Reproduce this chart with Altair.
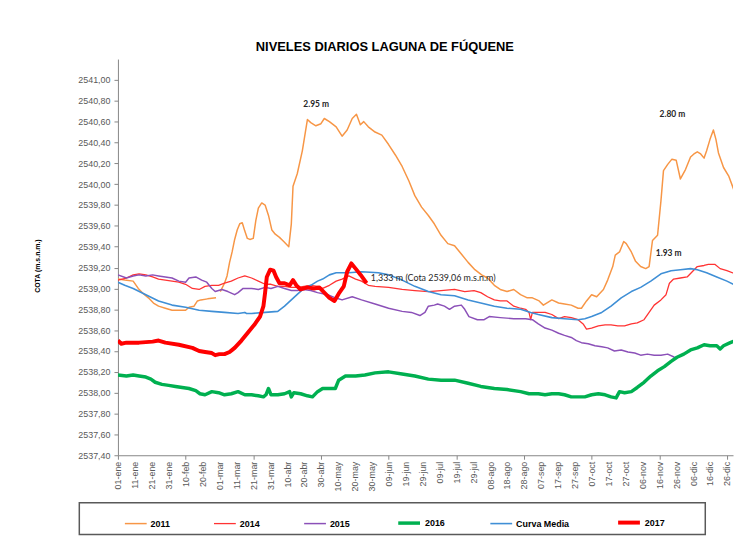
import json
import altair as alt
import pandas as pd

# ---------------- data ----------------
SERIES = ["2011", "2014", "2015", "2016", "Curva Media", "2017"]
COLORS = ["#F79646", "#FF3333", "#8B50B8", "#00B050", "#3F8FD6", "#FF0000"]
WIDTHS = [1.5, 1.3, 1.5, 3.5, 1.6, 4.0]

# day of year (0 = 01-ene) and level (m.s.n.m.)
d2011a = [0, 4, 9, 12, 15, 18, 21, 24, 28, 32, 36, 40, 42, 45, 47, 49, 53, 58]
v2011a = [2539.09, 2539.08, 2539.07, 2539.00, 2538.95, 2538.91, 2538.86, 2538.83, 2538.81,
          2538.79, 2538.79, 2538.79, 2538.82, 2538.83, 2538.88, 2538.89, 2538.90, 2538.91]

d2011b = [60.5, 63, 64.5, 66, 67.5, 69, 70.5, 72, 73.5, 75, 76.5, 78, 80, 81.5, 83, 85, 87, 89,
          91, 93, 95.5, 98, 101, 102.5, 103.5, 106, 109, 112, 114, 117, 120, 122, 125, 129,
          132.5, 135.5, 138.5, 141, 143.3, 145.3, 148, 152, 156, 160, 164, 168, 172, 175.5,
          179.5, 183.5, 187, 191, 195, 199, 203, 207, 211, 215, 218.5, 222.5, 226, 230, 234,
          238, 242, 245, 249, 251.5, 256.5, 260.5, 264, 268, 272, 274, 277, 280, 283, 287,
          289.5, 292.5, 294, 296.5, 299, 300.5, 303.5, 306, 309, 312, 314, 316, 319, 321,
          322.5, 325, 327.5, 330, 332.5, 335.5, 338.5, 340.5, 342.5, 344.5, 346.5, 348, 350,
          352, 353.5, 355, 358, 361, 364]
v2011b = [2538.97, 2539.05, 2539.12, 2539.25, 2539.35, 2539.47, 2539.56, 2539.62, 2539.63,
          2539.55, 2539.48, 2539.47, 2539.48, 2539.65, 2539.77, 2539.82, 2539.80, 2539.70,
          2539.56, 2539.52, 2539.49, 2539.45, 2539.40, 2539.62, 2539.98, 2540.10, 2540.32,
          2540.62, 2540.59, 2540.56, 2540.58, 2540.63, 2540.60, 2540.55, 2540.46, 2540.52,
          2540.63, 2540.67, 2540.57, 2540.60, 2540.55, 2540.50, 2540.47, 2540.38, 2540.28,
          2540.17, 2540.03, 2539.89, 2539.78, 2539.70, 2539.62, 2539.51, 2539.43, 2539.41,
          2539.33, 2539.25, 2539.18, 2539.13, 2539.10, 2539.03, 2538.99, 2538.97, 2538.99,
          2538.94, 2538.91, 2538.91, 2538.88, 2538.84, 2538.89, 2538.86, 2538.85, 2538.84,
          2538.81, 2538.81, 2538.88, 2538.94, 2538.92, 2538.99, 2539.08, 2539.21, 2539.32,
          2539.35, 2539.45, 2539.43, 2539.35, 2539.26, 2539.21, 2539.19, 2539.21, 2539.46,
          2539.51, 2539.84, 2540.13, 2540.19, 2540.24, 2540.23, 2540.05, 2540.14, 2540.26,
          2540.29, 2540.31, 2540.29, 2540.25, 2540.32, 2540.43, 2540.52, 2540.43, 2540.30,
          2540.16, 2540.08, 2539.95]

d2014 = [0, 5, 9, 12.5, 16.5, 20.5, 24, 28, 32, 36, 40, 44, 48, 51.5, 55.5, 59.5, 63, 67, 71,
         75, 79, 83, 87, 90.5, 94.5, 98.5, 102.5, 106, 110, 114, 118, 121, 125, 129, 132.5,
         136.5, 140.5, 144, 148, 152, 160, 168, 175.5, 183.5, 191, 199, 205, 210.5, 214.5,
         218.5, 222.5, 226, 230, 234, 238, 241, 243, 244, 245, 248.5, 252.5, 256.5, 260.5,
         264, 268, 272, 275, 277, 280, 284, 288, 291.5, 295.5, 299.5, 303.5, 307, 311, 314,
         317, 321, 324, 326, 328.5, 332.5, 336.5, 339.5, 342.5, 346.5, 349, 353, 356, 360, 365]
v2014 = [2539.08, 2539.10, 2539.13, 2539.14, 2539.13, 2539.11, 2539.09, 2539.08, 2539.07,
         2539.06, 2539.04, 2539.00, 2538.99, 2539.02, 2539.03, 2539.03, 2539.05, 2539.07,
         2539.10, 2539.12, 2539.10, 2539.07, 2539.04, 2539.04, 2539.02, 2539.02, 2539.01,
         2539.01, 2539.02, 2539.03, 2539.02, 2539.00, 2539.03, 2539.07, 2539.09, 2539.12,
         2539.09, 2539.07, 2539.03, 2539.02, 2539.01, 2538.99, 2538.98, 2538.97, 2538.98,
         2538.99, 2538.97, 2538.98, 2538.96, 2538.92, 2538.89, 2538.88, 2538.88, 2538.83,
         2538.81, 2538.80, 2538.77, 2538.70, 2538.77, 2538.77, 2538.77, 2538.75, 2538.71,
         2538.73, 2538.72, 2538.70, 2538.66, 2538.61, 2538.62, 2538.64, 2538.65, 2538.65,
         2538.64, 2538.64, 2538.66, 2538.67, 2538.70, 2538.77, 2538.84, 2538.89, 2538.94,
         2539.05, 2539.09, 2539.10, 2539.11, 2539.16, 2539.21, 2539.22, 2539.23, 2539.23,
         2539.19, 2539.17, 2539.14]

d2015 = [0, 5, 9, 12.5, 16.5, 20.5, 24, 28, 32, 36, 40, 42, 46, 49.5, 52.5, 55.5, 57.5, 61.5,
         65, 69, 71, 74, 79, 83, 87, 90.5, 94.5, 98.5, 102.5, 106, 110, 114, 118, 124, 128.5,
         132.5, 138.5, 144, 152, 160, 168, 173.5, 178.5, 181.5, 183.5, 187, 189, 193, 196,
         199, 203, 205, 207.5, 212.5, 216.5, 219.5, 226, 234, 241, 245, 248.5, 252.5, 256.5,
         260.5, 264, 268, 271, 274, 278, 282, 286, 289.5, 293.5, 297.5, 301.5, 305.5, 309,
         313, 317, 321, 325, 329]
v2015 = [2539.13, 2539.10, 2539.12, 2539.13, 2539.12, 2539.13, 2539.12, 2539.11, 2539.10,
         2539.07, 2539.06, 2539.10, 2539.11, 2539.08, 2539.06, 2539.00, 2538.97, 2538.99,
         2538.97, 2538.94, 2538.96, 2539.00, 2539.00, 2538.99, 2539.01, 2539.00, 2539.02,
         2539.00, 2538.98, 2538.98, 2538.99, 2538.98, 2538.96, 2538.94, 2538.91, 2538.89,
         2538.92, 2538.89, 2538.85, 2538.81, 2538.78, 2538.77, 2538.74, 2538.77, 2538.83,
         2538.84, 2538.85, 2538.83, 2538.80, 2538.83, 2538.84, 2538.80, 2538.73, 2538.70,
         2538.70, 2538.73, 2538.72, 2538.71, 2538.71, 2538.70, 2538.66, 2538.62, 2538.60,
         2538.57, 2538.55, 2538.53, 2538.50, 2538.48, 2538.47, 2538.45, 2538.44, 2538.43,
         2538.40, 2538.41, 2538.39, 2538.38, 2538.36, 2538.37, 2538.36, 2538.36, 2538.37,
         2538.34]

d2016 = [0, 5, 9, 12.5, 16.5, 19.5, 22, 26, 30, 34, 38, 42, 46, 48.5, 51.5, 55.5, 59.5, 63,
         67, 71, 75, 79, 83, 86, 87.5, 89, 90.5, 94.5, 98.5, 101.5, 102.5, 104, 108, 112, 115,
         118, 121, 128.5, 130.5, 134.5, 140.5, 146, 152, 160, 168, 175.5, 183.5, 191, 199,
         207, 214.5, 222.5, 230, 238, 243, 248.5, 252.5, 256.5, 260.5, 264, 268, 272, 276,
         280, 284, 288, 291.5, 294.5, 296.5, 299.5, 303.5, 307, 311, 315, 319, 323, 327,
         330.5, 334.5, 338.5, 342.5, 346.5, 350, 354, 356, 358, 362, 365]
v2016 = [2538.17, 2538.16, 2538.17, 2538.16, 2538.15, 2538.13, 2538.10, 2538.08, 2538.07,
         2538.06, 2538.05, 2538.04, 2538.02, 2537.99, 2537.98, 2538.01, 2538.00, 2537.98,
         2537.99, 2538.01, 2537.98, 2537.98, 2537.97, 2537.96, 2537.98, 2538.04, 2537.98,
         2537.98, 2537.99, 2538.01, 2537.96, 2538.00, 2537.99, 2537.97, 2537.96, 2538.01,
         2538.04, 2538.04, 2538.12, 2538.16, 2538.16, 2538.17, 2538.19, 2538.20, 2538.18,
         2538.16, 2538.13, 2538.12, 2538.12, 2538.09, 2538.06, 2538.04, 2538.03, 2538.01,
         2537.99, 2537.99, 2537.98, 2537.99, 2537.99, 2537.98, 2537.96, 2537.96, 2537.96,
         2537.98, 2537.99, 2537.98, 2537.96, 2537.95, 2538.01, 2538.00, 2538.01, 2538.05,
         2538.10, 2538.16, 2538.21, 2538.25, 2538.30, 2538.34, 2538.37, 2538.41, 2538.43,
         2538.46, 2538.45, 2538.45, 2538.42, 2538.45, 2538.48, 2538.50]

dmedia = [0, 4, 9, 16.5, 24, 32, 40, 48, 55.5, 63, 71, 75, 76, 79, 87, 94.5, 98.5, 102.5,
          106.5, 110, 114, 118, 121, 125, 129, 136.5, 144, 154, 160, 168, 175.5, 183.5, 191,
          199, 207, 214.5, 222.5, 230, 238, 244, 248.5, 256.5, 264, 272, 276, 280, 286,
          291.5, 297.5, 303.5, 309, 315, 321, 327, 332.5, 338.5, 342.5, 348, 354, 360, 365]
vmedia = [2539.06, 2539.03, 2539.00, 2538.94, 2538.88, 2538.84, 2538.82, 2538.79, 2538.78,
          2538.77, 2538.76, 2538.77, 2538.76, 2538.76, 2538.77, 2538.78, 2538.83, 2538.89,
          2538.95, 2539.00, 2539.03, 2539.07, 2539.09, 2539.13, 2539.15, 2539.15, 2539.16,
          2539.15, 2539.13, 2539.08, 2539.02, 2538.97, 2538.94, 2538.93, 2538.89, 2538.86,
          2538.83, 2538.81, 2538.80, 2538.77, 2538.75, 2538.72, 2538.71, 2538.70, 2538.71,
          2538.73, 2538.77, 2538.83, 2538.91, 2538.97, 2539.01, 2539.07, 2539.14, 2539.17,
          2539.18, 2539.19, 2539.18, 2539.15, 2539.11, 2539.07, 2539.03]

d2017 = [0, 2, 5, 12.5, 20.5, 24, 28, 36, 44, 48, 51.5, 55.5, 57.5, 60, 63, 66, 69, 73, 77,
         81, 84, 86, 87, 88, 90, 92, 93.5, 95.5, 98.5, 101.5, 103.5, 105.5, 108, 112, 116,
         119, 122, 125, 128, 130.5, 133.5, 135.5, 138, 140.5, 143.5, 147]
v2017 = [2538.50, 2538.47, 2538.48, 2538.48, 2538.49, 2538.50, 2538.48, 2538.46, 2538.43,
         2538.40, 2538.39, 2538.38, 2538.36, 2538.37, 2538.37, 2538.39, 2538.43, 2538.50,
         2538.58, 2538.66, 2538.73, 2538.83, 2538.96, 2539.11, 2539.18, 2539.17, 2539.11,
         2539.05, 2539.05, 2539.03, 2539.08, 2539.03, 2538.99, 2539.01, 2539.00, 2539.01,
         2538.96, 2538.91, 2538.88, 2538.95, 2539.02, 2539.16, 2539.24, 2539.19, 2539.13,
         2539.05]

# annotations
ann_bold_text = ["2.95 m", "2.80 m", "1.93 m"]
ann_bold_day = [117.2, 327.8, 325.6]
ann_bold_val = [2540.77, 2540.67, 2539.34]
ann_note_text = ["1,333 m (Cota 2539,06  m.s.n.m)"]
ann_note_day = [149.5]
ann_note_val = [2539.10]

# x axis tick labels (every 10 days)
x_tick_labels = ["01-ene", "11-ene", "21-ene", "31-ene", "10-feb", "20-feb", "01-mar",
                 "11-mar", "21-mar", "31-mar", "10-abr", "20-abr", "30-abr", "10-may",
                 "20-may", "30-may", "09-jun", "19-jun", "29-jun", "09-jul", "19-jul",
                 "29-jul", "08-ago", "18-ago", "28-ago", "07-sep", "17-sep", "27-sep",
                 "07-oct", "17-oct", "27-oct", "06-nov", "16-nov", "26-nov", "06-dic",
                 "16-dic", "26-dic"]
x_tick_days = [10 * i for i in range(len(x_tick_labels))]
y_tick_values = [round(2537.4 + 0.2 * i, 2) for i in range(19)]

# ---------------- table ----------------
rows = []
def add(series, seg, days, vals):
    for d, v in zip(days, vals):
        rows.append({"series": series, "seg": seg, "day": d, "value": v})

add("2011", "2011a", d2011a, v2011a)
add("2011", "2011b", d2011b, v2011b)
add("2014", "2014", d2014, v2014)
add("2015", "2015", d2015, v2015)
add("2016", "2016", d2016, v2016)
add("Curva Media", "media", dmedia, vmedia)
add("2017", "2017", d2017, v2017)
df = pd.DataFrame(rows)

NARROW = "Liberation Sans Narrow, Arial Narrow, Liberation Sans"
X_MAX = 363.6

xscale = alt.Scale(domain=[0, X_MAX], nice=False, zero=False)
yscale = alt.Scale(domain=[2537.4, 2541.2], nice=False, zero=False)

xaxis = alt.Axis(
    values=x_tick_days, labelExpr=json.dumps(x_tick_labels) + "[round(datum.value / 10)]",
    labelAngle=-90, labelFont=NARROW, labelFontSize=9, labelColor="#595959",
    labelPadding=2, labelFlush=False, labelOverlap=False, labelBound=False,
    tickSize=4, tickColor="#868686", domainColor="#868686", domainWidth=1,
    tickOpacity={"condition": {"test": "datum.value % 40 === 0", "value": 1}, "value": 0},
    grid=False, title=None)
yaxis = alt.Axis(
    values=y_tick_values, labelExpr="replace(format(datum.value, '.2f'), '.', ',')",
    labelFont=NARROW, labelFontSize=9, labelColor="#595959", labelPadding=4,
    tickSize=4, tickColor="#868686", domainColor="#868686", grid=False,
    title="COTA (m.s.n.m.)", titleFont="Liberation Sans", titleFontSize=7,
    titleFontWeight="bold", titleColor="#000000", titleAngle=270, titleAlign="center",
    titleBaseline="middle", titleX=-81.5, titleY=208.5)

legend = alt.Legend(
    title=None, orient="none", legendX=6, legendY=455, direction="horizontal",
    symbolType="stroke", symbolSize=484, labelFont="Liberation Sans", labelFontSize=9,
    labelFontWeight="bold", labelColor="#000000", columnPadding=41, labelOffset=3,
    padding=0,
)

lines = alt.Chart(df).mark_line(clip=True, strokeJoin="round", strokeCap="butt").encode(
    x=alt.X("day:Q", scale=xscale, axis=xaxis),
    y=alt.Y("value:Q", scale=yscale, axis=yaxis),
    color=alt.Color("series:N", scale=alt.Scale(domain=SERIES, range=COLORS), legend=legend),
    strokeWidth=alt.StrokeWidth("series:N", scale=alt.Scale(type="ordinal", domain=SERIES,
                                                            range=WIDTHS),
                                legend=legend),
    detail="seg:N",
)

ann_bold = alt.Chart(pd.DataFrame({"day": ann_bold_day, "value": ann_bold_val,
                                   "label": ann_bold_text})).mark_text(
    font="Lato", fontSize=8.5, fontWeight="bold", color="#262626", align="center",
    baseline="middle").encode(
    x=alt.X("day:Q", scale=xscale, axis=xaxis),
    y=alt.Y("value:Q", scale=yscale, axis=yaxis),
    text="label:N")

ann_note = alt.Chart(pd.DataFrame({"day": ann_note_day, "value": ann_note_val,
                                   "label": ann_note_text})).mark_text(
    font="Lato", fontSize=9, color="#262626", align="left", baseline="middle").encode(
    x=alt.X("day:Q", scale=xscale, axis=xaxis),
    y=alt.Y("value:Q", scale=yscale, axis=yaxis),
    text="label:N")

legend_box = alt.Chart(alt.Data(values=[{"k": 1}])).mark_rect(
    fill="white", fillOpacity=0, stroke="#595959", strokeWidth=1.5).encode(
    x=alt.value(-39), x2=alt.value(593), y=alt.value(448), y2=alt.value(480))

chart = alt.layer(lines, ann_bold, ann_note, legend_box).properties(
    width=621, height=400,
    background="white",
    autosize=alt.AutoSizeParams(type="none"),
    padding={"left": 111, "top": 49, "right": 1, "bottom": 82},
    title=alt.TitleParams("NIVELES DIARIOS LAGUNA DE FÚQUENE", font="Liberation Sans",
                          fontSize=13, fontWeight="bold", color="#000000", anchor="middle",
                          frame="group", dx=-41, dy=11, offset=6, baseline="alphabetic"),
).configure_view(stroke=None)

chart.save("out.html", embed_options={"renderer": "svg", "actions": False})
